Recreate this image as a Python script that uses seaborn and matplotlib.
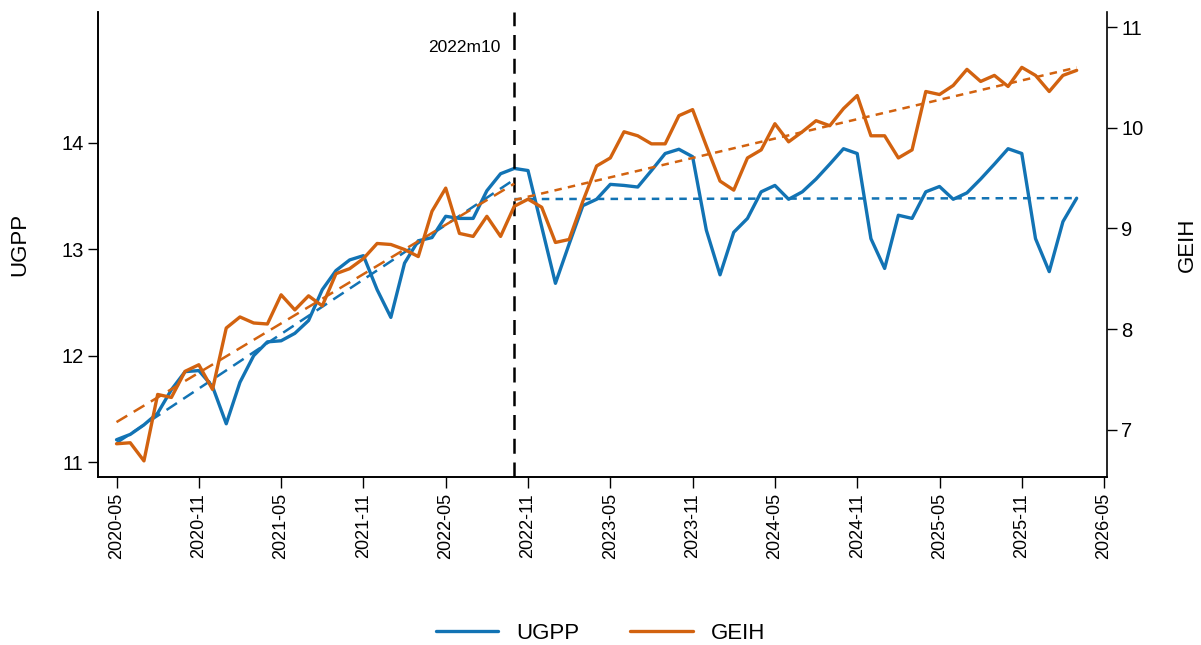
import numpy as np
import pandas as pd
import seaborn as sns
import matplotlib.pyplot as plt

# monthly series, 2020-05 .. 2026-03
months = pd.date_range("2020-05-01", "2026-03-01", freq="MS")
ugpp = [11.21, 11.26, 11.35, 11.46, 11.68, 11.85, 11.86, 11.71, 11.36, 11.75,
        12.00, 12.13, 12.14, 12.21, 12.33, 12.62, 12.80, 12.90, 12.94, 12.62,
        12.36, 12.87, 13.08, 13.11, 13.31, 13.29, 13.29, 13.55, 13.71, 13.76,
        13.74, 13.21, 12.68, 13.05, 13.41, 13.47, 13.61, 13.60, 13.585, 13.74,
        13.90, 13.94, 13.87, 13.18, 12.76, 13.16, 13.29, 13.54, 13.60, 13.47,
        13.54, 13.66, 13.80, 13.945, 13.90, 13.10, 12.82, 13.32, 13.29, 13.54,
        13.59, 13.47, 13.53, 13.66, 13.80, 13.945, 13.90, 13.10, 12.79, 13.26,
        13.48]
geih = [6.86, 6.87, 6.69, 7.35, 7.32, 7.58, 7.645, 7.40, 8.01, 8.12,
        8.06, 8.05, 8.34, 8.19, 8.33, 8.23, 8.55, 8.60, 8.70, 8.85,
        8.84, 8.79, 8.72, 9.17, 9.40, 8.95, 8.92, 9.12, 8.92, 9.22,
        9.29, 9.21, 8.86, 8.89, 9.27, 9.62, 9.70, 9.96, 9.92, 9.84,
        9.84, 10.12, 10.18, 9.82, 9.47, 9.38, 9.70, 9.78, 10.04, 9.86,
        9.96, 10.07, 10.02, 10.19, 10.32, 9.92, 9.92, 9.70, 9.78, 10.36,
        10.33, 10.42, 10.58, 10.46, 10.52, 10.41, 10.60, 10.52, 10.36, 10.52,
        10.57]
tick_labels = ["2020-05", "2020-11", "2021-05", "2021-11", "2022-05", "2022-11",
               "2023-05", "2023-11", "2024-05", "2024-11", "2025-05", "2025-11",
               "2026-05"]
break_label = "2022m10"
brk = 29  # index of 2022-10

idx = np.arange(len(months))
blue = "#1273B4"
orange = "#D2620F"

sns.set_style("ticks")
plt.rcParams['font.family'] = ['Liberation Sans', 'DejaVu Sans']
plt.rcParams['text.color'] = 'black'
plt.rcParams['axes.labelcolor'] = 'black'
plt.rcParams['xtick.color'] = 'black'
plt.rcParams['ytick.color'] = 'black'

fig = plt.figure(figsize=(12.01, 6.45), dpi=100)
ax = fig.add_axes([0.0816, 0.2605, 0.84, 0.7209])
ax2 = ax.twinx()

sns.lineplot(x=idx, y=ugpp, ax=ax, color=blue, lw=2.4, label="UGPP", legend=False)
sns.lineplot(x=idx, y=geih, ax=ax2, color=orange, lw=2.4, label="GEIH", legend=False)

# linear trends before / after the break
pre = slice(0, brk + 1)
post = slice(brk, None)
sns.regplot(x=idx[pre], y=np.array(ugpp)[pre], ax=ax, scatter=False, ci=None,
            color=blue, line_kws=dict(lw=1.8, dashes=(5, 3)))
sns.regplot(x=idx[post], y=np.array(ugpp)[post], ax=ax, scatter=False, ci=None,
            color=blue, line_kws=dict(lw=1.8, dashes=(3, 2.5)))
sns.regplot(x=idx[pre], y=np.array(geih)[pre], ax=ax2, scatter=False, ci=None,
            color=orange, line_kws=dict(lw=1.8, dashes=(5, 3)))
sns.regplot(x=idx[post], y=np.array(geih)[post], ax=ax2, scatter=False, ci=None,
            color=orange, line_kws=dict(lw=1.8, dashes=(3, 2.5)))

ax.axvline(brk, color="black", lw=1.8, dashes=(6, 3.5))
ax.text(brk - 1.0, 14.90, break_label, ha="right", va="center", fontsize=12.5)

ax.set_xlim(-1.35, 72.2)
ax.set_ylim(10.86, 15.23)
ax2.set_ylim(6.53, 11.15)
ax.set_xticks(np.arange(0, 73, 6))
ax.set_xticklabels(tick_labels, rotation=90, fontsize=13)
ax.set_yticks([11, 12, 13, 14])
ax2.set_yticks([7, 8, 9, 10, 11])
ax.tick_params(axis="y", labelsize=14.5, length=7, width=1)
ax.tick_params(axis="x", length=8, width=1)
ax2.tick_params(axis="y", labelsize=14.5, length=7, width=1)
ax.set_ylabel("UGPP", fontsize=16, labelpad=22)
ax2.set_ylabel("GEIH", fontsize=16, labelpad=24)
ax.set_xlabel("")

for a in (ax, ax2):
    a.spines["top"].set_visible(False)
    for s in a.spines.values():
        s.set_linewidth(1.2)
        s.set_color("black")
ax.spines["right"].set_visible(False)

handles = [ax.get_lines()[0], ax2.get_lines()[0]]
fig.legend(handles, ["UGPP", "GEIH"], loc="center", bbox_to_anchor=(0.5, 0.018),
           ncol=2, frameon=False, fontsize=16, handlelength=2.8, columnspacing=2.3)

fig.savefig("out.png", dpi=100)
